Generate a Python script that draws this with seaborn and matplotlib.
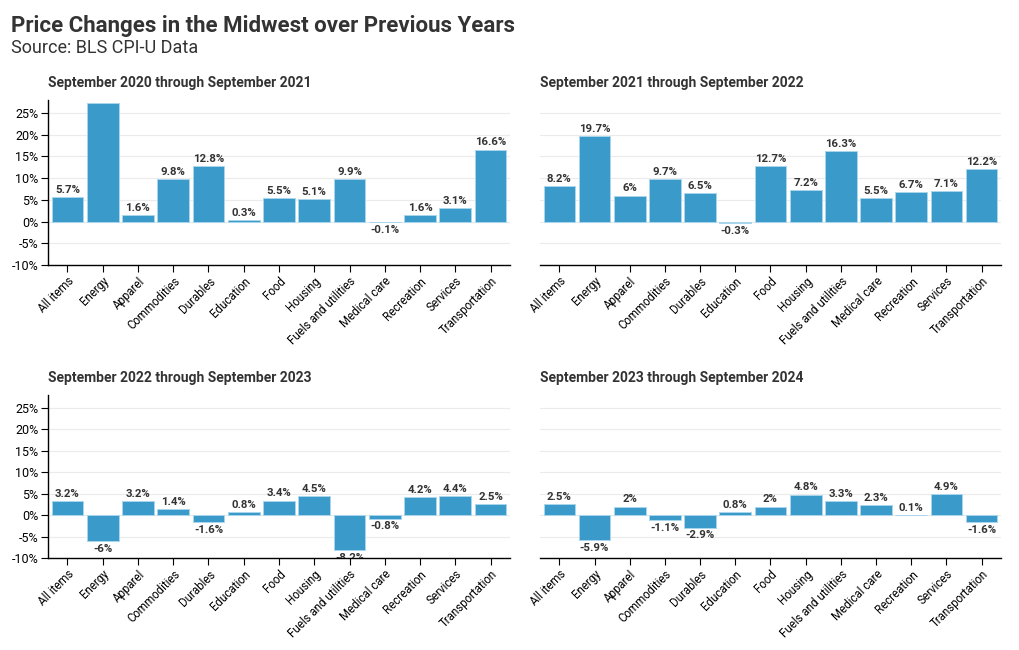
import matplotlib
matplotlib.use("Agg")
import matplotlib.pyplot as plt
import seaborn as sns
import pandas as pd

categories = ["All items", "Energy", "Apparel", "Commodities", "Durables", "Education",
              "Food", "Housing", "Fuels and utilities", "Medical care", "Recreation",
              "Services", "Transportation"]
vals_2021 = [5.7, 27.4, 1.6, 9.8, 12.8, 0.3, 5.5, 5.1, 9.9, -0.1, 1.6, 3.1, 16.6]
vals_2022 = [8.2, 19.7, 6, 9.7, 6.5, -0.3, 12.7, 7.2, 16.3, 5.5, 6.7, 7.1, 12.2]
vals_2023 = [3.2, -6, 3.2, 1.4, -1.6, 0.8, 3.4, 4.5, -8.2, -0.8, 4.2, 4.4, 2.5]
vals_2024 = [2.5, -5.9, 2, -1.1, -2.9, 0.8, 2, 4.8, 3.3, 2.3, 0.1, 4.9, -1.6]
panel_titles = ["September 2020 through September 2021",
                "September 2021 through September 2022",
                "September 2022 through September 2023",
                "September 2023 through September 2024"]
y_ticks = [-10, -5, 0, 5, 10, 15, 20, 25]

sns.set_theme(style="white")
plt.rcParams['font.family'] = ['Roboto', 'DejaVu Sans']

BAR = "#3a9bcb"
EDGE = "#a9d6ec"
TXT = "#333333"

fig = plt.figure(figsize=(10.2, 6.5), dpi=100)
W, H = 1020, 650
boxes = [(48, 100, 510, 265), (540, 100, 1001, 265),
         (48, 395, 510, 558), (540, 395, 1001, 558)]
series = [vals_2021, vals_2022, vals_2023, vals_2024]

fig.text(11 / W, 1 - 26 / H, "Price Changes in the Midwest over Previous Years",
         fontsize=16, fontweight="bold", color=TXT, va="center", ha="left")
fig.text(11 / W, 1 - 48 / H, "Source: BLS CPI-U Data",
         fontsize=13, color=TXT, va="center", ha="left")

for i, (box, vals, title) in enumerate(zip(boxes, series, panel_titles)):
    x0, y0, x1, y1 = box
    ax = fig.add_axes([x0 / W, 1 - y1 / H, (x1 - x0) / W, (y1 - y0) / H])
    df = pd.DataFrame({"cat": categories, "val": vals})
    sns.barplot(data=df, x="cat", y="val", color=BAR, saturation=1, width=0.9,
                edgecolor=EDGE, linewidth=0.7, ax=ax)
    ax.set_ylim(-10, 28)
    ax.set_xlim(-0.55, 12.55)
    ax.set_yticks(y_ticks)
    ax.yaxis.grid(True, color="#ebebeb", linewidth=0.8)
    ax.set_axisbelow(True)
    ax.set_xlabel("")
    ax.set_ylabel("")
    for s in ["top", "right"]:
        ax.spines[s].set_visible(False)
    ax.spines["bottom"].set_color("black")
    ax.spines["bottom"].set_linewidth(1)
    ax.tick_params(axis="x", length=5, width=0.8, color="black", bottom=True,
                   labelsize=8.3, labelcolor="black", pad=2)
    ax.set_xticks(range(len(categories)))
    ax.set_xticklabels(categories, rotation=45, ha="right", rotation_mode="anchor")
    if i % 2 == 0:
        ax.spines["left"].set_color("black")
        ax.spines["left"].set_linewidth(1)
        ax.tick_params(axis="y", length=5, width=0.8, color="black", left=True,
                       labelsize=9, labelcolor="black", pad=2)
        ax.set_yticklabels([f"{t}%" for t in y_ticks])
    else:
        ax.spines["left"].set_visible(False)
        ax.tick_params(axis="y", left=False, labelleft=False)
    for j, v in enumerate(vals):
        lab = f"{v:g}%"
        if v >= 0:
            ax.annotate(lab, (j, v), xytext=(0, 1.5), textcoords="offset points",
                        ha="center", va="bottom", fontsize=8.2, fontweight="bold",
                        color=TXT, annotation_clip=False, clip_on=True)
        else:
            ax.annotate(lab, (j, v), xytext=(0, -2), textcoords="offset points",
                        ha="center", va="top", fontsize=8.2, fontweight="bold",
                        color=TXT, annotation_clip=False, clip_on=True)
    fig.text(x0 / W, 1 - (y0 - 17) / H, title, fontsize=10, fontweight="bold",
             color=TXT, ha="left", va="center")

fig.savefig("out.png", dpi=100)
